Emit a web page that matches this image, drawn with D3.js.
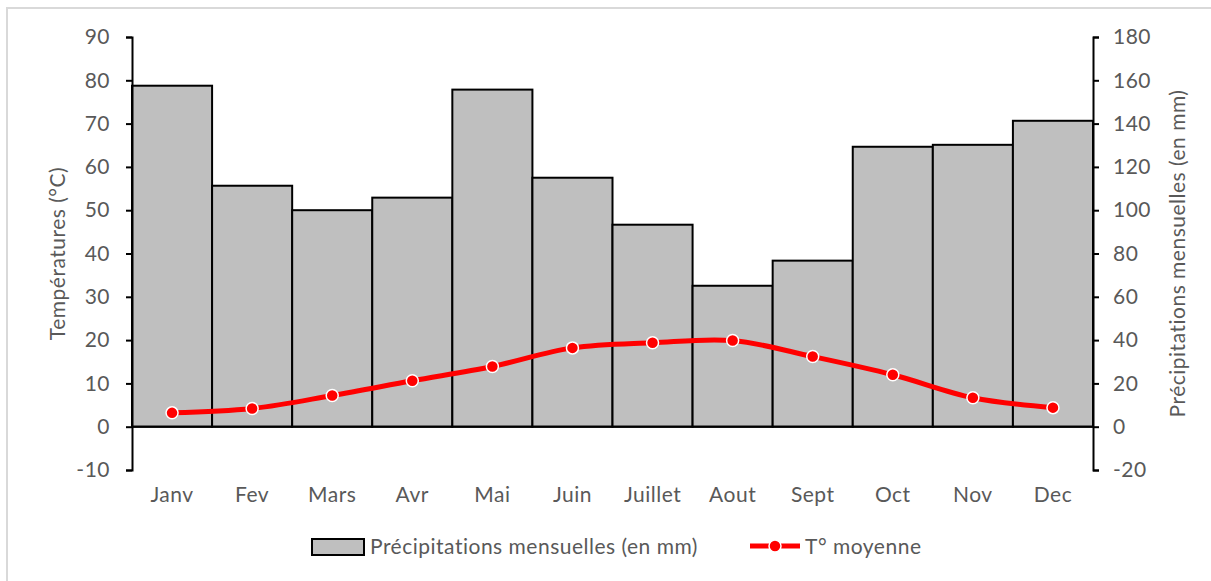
<!DOCTYPE html>
<html>
<head>
<meta charset="utf-8">
<script src="https://cdn.jsdelivr.net/npm/d3@7"></script>
<style>
  body { margin: 0; background: #fff; }
  text { font-family: Lato, "Open Sans", sans-serif; fill: #595959; letter-spacing: 0.5px; }
</style>
</head>
<body>
<div id="chart"></div>
<script>
// données
const mois = ["Janv", "Fev", "Mars", "Avr", "Mai", "Juin", "Juillet", "Aout", "Sept", "Oct", "Nov", "Dec"];
const precipitations = [157.5, 111.3, 100, 105.8, 155.7, 115, 93.3, 65.1, 76.7, 129.3, 130.2, 141.3];
const temperatures = [3.2, 4.2, 7.2, 10.6, 13.9, 18.2, 19.4, 19.9, 16.2, 12.0, 6.7, 4.4];
const ticksTemp = [-10, 0, 10, 20, 30, 40, 50, 60, 70, 80, 90];
const ticksPrecip = [-20, 0, 20, 40, 60, 80, 100, 120, 140, 160, 180];

const width = 1211, height = 581;
const margin = { top: 37, right: 118, bottom: 111, left: 132 };
const w = width - margin.left - margin.right;
const h = height - margin.top - margin.bottom;
const fs = "21px";

const svg = d3.select("#chart")
  .append("svg")
  .attr("width", width)
  .attr("height", height);

// cadre gris
svg.append("rect")
  .attr("x", 7).attr("y", 8)
  .attr("width", 1300).attr("height", 700)
  .attr("fill", "none")
  .attr("stroke", "#d9d9d9")
  .attr("stroke-width", 2);

const g = svg.append("g")
  .attr("transform", `translate(${margin.left},${margin.top})`);

const x = d3.scaleBand().domain(mois).range([0, w]).padding(0);
const yT = d3.scaleLinear().domain([-10, 90]).range([h, 0]);
const yP = d3.scaleLinear().domain([-20, 180]).range([h, 0]);

// barres
g.selectAll("rect.bar")
  .data(precipitations)
  .enter()
  .append("rect")
  .attr("class", "bar")
  .attr("x", (d, i) => x(mois[i]))
  .attr("y", d => yP(d))
  .attr("width", x.bandwidth())
  .attr("height", d => yP(0) - yP(d))
  .attr("fill", "#bfbfbf")
  .attr("stroke", "#000")
  .attr("stroke-width", 2);

// ligne du zéro
g.append("line")
  .attr("x1", 0).attr("x2", w)
  .attr("y1", yT(0)).attr("y2", yT(0))
  .attr("stroke", "#000").attr("stroke-width", 2);

// axes (tiret simple pour les négatifs, comme Excel)
const fmt = d => String(d);
const axeG = g.append("g")
  .call(d3.axisLeft(yT).tickValues(ticksTemp).tickFormat(fmt).tickSize(6).tickSizeOuter(6).tickPadding(16));
const axeD = g.append("g")
  .attr("transform", `translate(${w},0)`)
  .call(d3.axisRight(yP).tickValues(ticksPrecip).tickFormat(fmt).tickSize(6).tickSizeOuter(6).tickPadding(14));
[axeG, axeD].forEach(a => {
  a.select(".domain").attr("stroke", "#000").attr("stroke-width", 2);
  a.selectAll(".tick line").attr("stroke", "#000").attr("stroke-width", 2);
  a.selectAll(".tick text").style("font-size", fs).attr("fill", "#595959");
});

// libellés des mois
g.selectAll("text.mois")
  .data(mois)
  .enter()
  .append("text")
  .attr("class", "mois")
  .attr("x", d => x(d) + x.bandwidth() / 2)
  .attr("y", h + 32)
  .attr("text-anchor", "middle")
  .style("font-size", fs)
  .text(d => d);

// courbe des températures
const ligne = d3.line()
  .x((d, i) => x(mois[i]) + x.bandwidth() / 2)
  .y(d => yT(d))
  .curve(d3.curveCatmullRom.alpha(0.5));

g.append("path")
  .datum(temperatures)
  .attr("d", ligne)
  .attr("fill", "none")
  .attr("stroke", "#ff0000")
  .attr("stroke-width", 5);

g.selectAll("circle.pt")
  .data(temperatures)
  .enter()
  .append("circle")
  .attr("class", "pt")
  .attr("cx", (d, i) => x(mois[i]) + x.bandwidth() / 2)
  .attr("cy", d => yT(d))
  .attr("r", 6)
  .attr("fill", "#ff0000")
  .attr("stroke", "#fff")
  .attr("stroke-width", 1.5);

// titres des axes
svg.append("text")
  .attr("transform", `translate(65, ${margin.top + h / 2}) rotate(-90)`)
  .attr("text-anchor", "middle")
  .style("font-size", fs)
  .text("Températures (°C)");

svg.append("text")
  .attr("transform", `translate(1185, ${margin.top + h / 2}) rotate(-90)`)
  .attr("text-anchor", "middle")
  .style("font-size", fs)
  .text("Précipitations mensuelles (en mm)");

// légende
const leg = svg.append("g");
leg.append("rect")
  .attr("x", 312).attr("y", 539)
  .attr("width", 52).attr("height", 16)
  .attr("fill", "#bfbfbf").attr("stroke", "#000").attr("stroke-width", 2);
leg.append("text")
  .attr("x", 370).attr("y", 554)
  .style("font-size", fs)
  .text("Précipitations mensuelles (en mm)");
leg.append("line")
  .attr("x1", 750).attr("x2", 800)
  .attr("y1", 546).attr("y2", 546)
  .attr("stroke", "#ff0000").attr("stroke-width", 5);
leg.append("circle")
  .attr("cx", 775).attr("cy", 546).attr("r", 6)
  .attr("fill", "#ff0000").attr("stroke", "#fff").attr("stroke-width", 1.5);
leg.append("text")
  .attr("x", 805).attr("y", 554)
  .style("font-size", fs)
  .text("T° moyenne");
</script>
</body>
</html>
